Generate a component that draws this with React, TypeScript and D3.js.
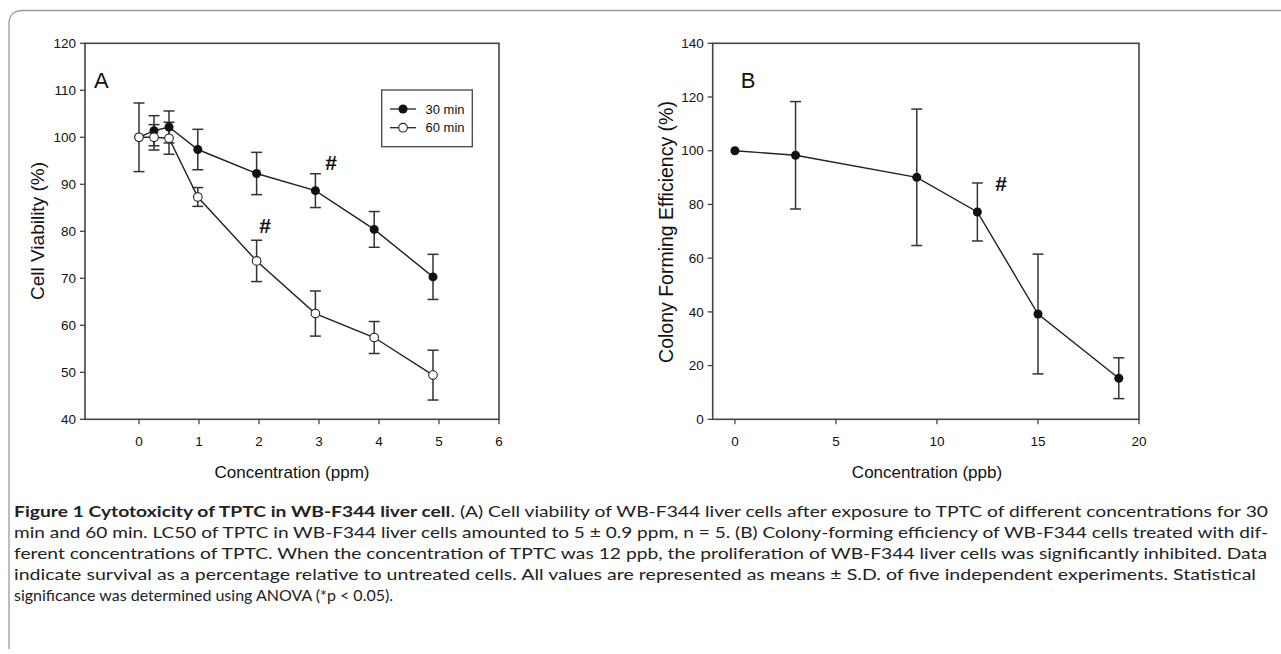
import React from "react";
import * as d3 from "d3";

// ---------- Panel A data ----------
const concA = [0, 0.25, 0.5, 0.98, 1.96, 2.94, 3.92, 4.9];
const via30 = [100, 101.4, 102.2, 97.4, 92.3, 88.65, 80.4, 70.3];
const sd30 = [0, 3.2, 3.4, 4.3, 4.5, 3.6, 3.8, 4.8];
const via60 = [100, 100, 99.8, 87.3, 73.7, 62.5, 57.4, 49.4];
const sd60 = [7.3, 2.7, 3.4, 2.0, 4.4, 4.8, 3.4, 5.3];
const ticksAx = [0, 1, 2, 3, 4, 5, 6];
const ticksAy = [40, 50, 60, 70, 80, 90, 100, 110, 120];
const legendLabels = ["30 min", "60 min"];

// ---------- Panel B data ----------
const concB = [0, 3, 9, 12, 15, 19];
const cfe = [100, 98.3, 90.1, 77.2, 39.2, 15.3];
const sdB = [0, 20, 25.4, 10.8, 22.3, 7.6];
const ticksBx = [0, 5, 10, 15, 20];
const ticksBy = [0, 20, 40, 60, 80, 100, 120, 140];

// ---------- Caption ----------
const captionBold = "Figure 1 Cytotoxicity of TPTC in WB-F344 liver cell";
const captionLines = [
  ". (A) Cell viability of WB-F344 liver cells after exposure to TPTC of different concentrations for 30",
  "min and 60 min. LC50 of TPTC in WB-F344 liver cells amounted to 5 \u00b1 0.9 ppm, n = 5. (B) Colony-forming efficiency of WB-F344 cells treated with dif-",
  "ferent concentrations of TPTC. When the concentration of TPTC was 12 ppb, the proliferation of WB-F344 liver cells was significantly inhibited. Data",
  "indicate survival as a percentage relative to untreated cells. All values are represented as means \u00b1 S.D. of five independent experiments. Statistical",
  "significance was determined using ANOVA (*p < 0.05).",
];

const AX = "Liberation Sans, Arial, sans-serif";
const CAP = "Lato, 'Noto Sans', sans-serif";

function ErrorBars({ xs, ys, sds, x, y }: any) {
  return (
    <g stroke="#333" strokeWidth={1.5}>
      {xs.map((xv: number, i: number) =>
        sds[i] > 0 ? (
          <g key={i}>
            <line x1={x(xv)} x2={x(xv)} y1={y(ys[i] + sds[i])} y2={y(ys[i] - sds[i])} />
            <line x1={x(xv) - 5.5} x2={x(xv) + 5.5} y1={y(ys[i] + sds[i])} y2={y(ys[i] + sds[i])} />
            <line x1={x(xv) - 5.5} x2={x(xv) + 5.5} y1={y(ys[i] - sds[i])} y2={y(ys[i] - sds[i])} />
          </g>
        ) : null
      )}
    </g>
  );
}

function Axes({ x, y, xt, yt, x0, x1, y0, y1 }: any) {
  return (
    <g fontFamily={AX} fontSize={13.5} fill="#111">
      <rect x={x0} y={y1} width={x1 - x0} height={y0 - y1} fill="none" stroke="#444" strokeWidth={1.6} />
      {yt.map((t: number) => (
        <g key={"y" + t}>
          <line x1={x0 - 5} x2={x0} y1={y(t)} y2={y(t)} stroke="#444" strokeWidth={1.3} />
          <text x={x0 - 9} y={y(t)} dy="0.35em" textAnchor="end">{t}</text>
        </g>
      ))}
      {xt.map((t: number) => (
        <g key={"x" + t}>
          <line x1={x(t)} x2={x(t)} y1={y0} y2={y0 + 5} stroke="#444" strokeWidth={1.3} />
          <text x={x(t)} y={y0 + 22} dy="0.35em" textAnchor="middle">{t}</text>
        </g>
      ))}
    </g>
  );
}

export default function App() {
  const xA = d3.scaleLinear().domain([-0.9, 6]).range([85, 499]);
  const yA = d3.scaleLinear().domain([40, 120]).range([419.3, 43.3]);
  const xB = d3.scaleLinear().domain([-1.1, 20]).range([712.7, 1139]);
  const yB = d3.scaleLinear().domain([0, 140]).range([419.3, 43.3]);

  const lineA30 = d3.line<number>().x((_, i) => xA(concA[i])).y((d) => yA(d))(via30) || "";
  const lineA60 = d3.line<number>().x((_, i) => xA(concA[i])).y((d) => yA(d))(via60) || "";
  const lineB = d3.line<number>().x((_, i) => xB(concB[i])).y((d) => yB(d))(cfe) || "";

  const capY = [517, 538, 559, 580, 601];
  const capEnd = [1268, 1268, 1267, 1256];

  return (
    <svg width={1281} height={654} style={{ position: "absolute", left: 0, top: 0, background: "#fff" }}>
      {/* figure frame */}
      <path d="M9,649 L9,24 Q9,10.5 23,10.5 L1290,10.5" fill="none" stroke="#9a9a9a" strokeWidth={1.3} />

      {/* Panel A */}
      <Axes x={xA} y={yA} xt={ticksAx} yt={ticksAy} x0={85} x1={499} y0={419.3} y1={43.3} />
      <text x={94} y={80} dy="0.35em" fontFamily={AX} fontSize={22} fill="#111">A</text>
      <text transform="translate(37,231) rotate(-90)" textAnchor="middle" dy="0.35em" fontFamily={AX} fontSize={19} fill="#111">Cell Viability (%)</text>
      <text x={292} y={472} dy="0.35em" textAnchor="middle" fontFamily={AX} fontSize={17} fill="#111">Concentration (ppm)</text>

      <ErrorBars xs={concA} ys={via30} sds={sd30} x={xA} y={yA} />
      <ErrorBars xs={concA} ys={via60} sds={sd60} x={xA} y={yA} />
      <path d={lineA30} fill="none" stroke="#222" strokeWidth={1.4} />
      <path d={lineA60} fill="none" stroke="#222" strokeWidth={1.4} />
      {concA.map((c, i) => (
        <circle key={"f" + i} cx={xA(c)} cy={yA(via30[i])} r={4.5} fill="#111" />
      ))}
      {concA.map((c, i) => (
        <circle key={"o" + i} cx={xA(c)} cy={yA(via60[i])} r={4.3} fill="#fff" stroke="#222" strokeWidth={1.1} />
      ))}
      <text x={331} y={163} dy="0.35em" textAnchor="middle" fontFamily={AX} fontSize={21} fontWeight="bold" fill="#111">#</text>
      <text x={265} y={226} dy="0.35em" textAnchor="middle" fontFamily={AX} fontSize={21} fontWeight="bold" fill="#111">#</text>

      {/* legend */}
      <g fontFamily={AX} fontSize={13} fill="#111">
        <rect x={381.7} y={90} width={90.6} height={56.7} fill="#fff" stroke="#444" strokeWidth={1.3} />
        <line x1={390} x2={416} y1={109} y2={109} stroke="#222" strokeWidth={1.3} />
        <circle cx={403} cy={109} r={4.5} fill="#111" />
        <text x={425.5} y={109} dy="0.35em">{legendLabels[0]}</text>
        <line x1={390} x2={416} y1={127.7} y2={127.7} stroke="#222" strokeWidth={1.3} />
        <circle cx={403} cy={127.7} r={4.3} fill="#fff" stroke="#222" strokeWidth={1.1} />
        <text x={425.5} y={127.7} dy="0.35em">{legendLabels[1]}</text>
      </g>

      {/* Panel B */}
      <Axes x={xB} y={yB} xt={ticksBx} yt={ticksBy} x0={712.7} x1={1139} y0={419.3} y1={43.3} />
      <text x={748} y={80} dy="0.35em" textAnchor="middle" fontFamily={AX} fontSize={22} fill="#111">B</text>
      <text transform="translate(666,232) rotate(-90)" textAnchor="middle" dy="0.35em" fontFamily={AX} fontSize={19.5} fill="#111">Colony Forming Efficiency (%)</text>
      <text x={927} y={472} dy="0.35em" textAnchor="middle" fontFamily={AX} fontSize={17} fill="#111">Concentration (ppb)</text>
      <ErrorBars xs={concB} ys={cfe} sds={sdB} x={xB} y={yB} />
      <path d={lineB} fill="none" stroke="#222" strokeWidth={1.4} />
      {concB.map((c, i) => (
        <circle key={"b" + i} cx={xB(c)} cy={yB(cfe[i])} r={4.5} fill="#111" />
      ))}
      <text x={1001} y={184} dy="0.35em" textAnchor="middle" fontFamily={AX} fontSize={21} fontWeight="bold" fill="#111">#</text>

      {/* caption */}
      <g fontFamily={CAP} fontSize={16} fill="#222">
        <text x={14} y={capY[0]} textLength={capEnd[0] - 14} lengthAdjust="spacingAndGlyphs">
          <tspan fontWeight="bold">{captionBold}</tspan>
          <tspan>{captionLines[0]}</tspan>
        </text>
        {captionLines.slice(1, 4).map((l, i) => (
          <text key={i} x={14} y={capY[i + 1]} textLength={capEnd[i + 1] - 14} lengthAdjust="spacingAndGlyphs">{l}</text>
        ))}
        <text x={14} y={capY[4]}>{captionLines[4]}</text>
      </g>
    </svg>
  );
}
